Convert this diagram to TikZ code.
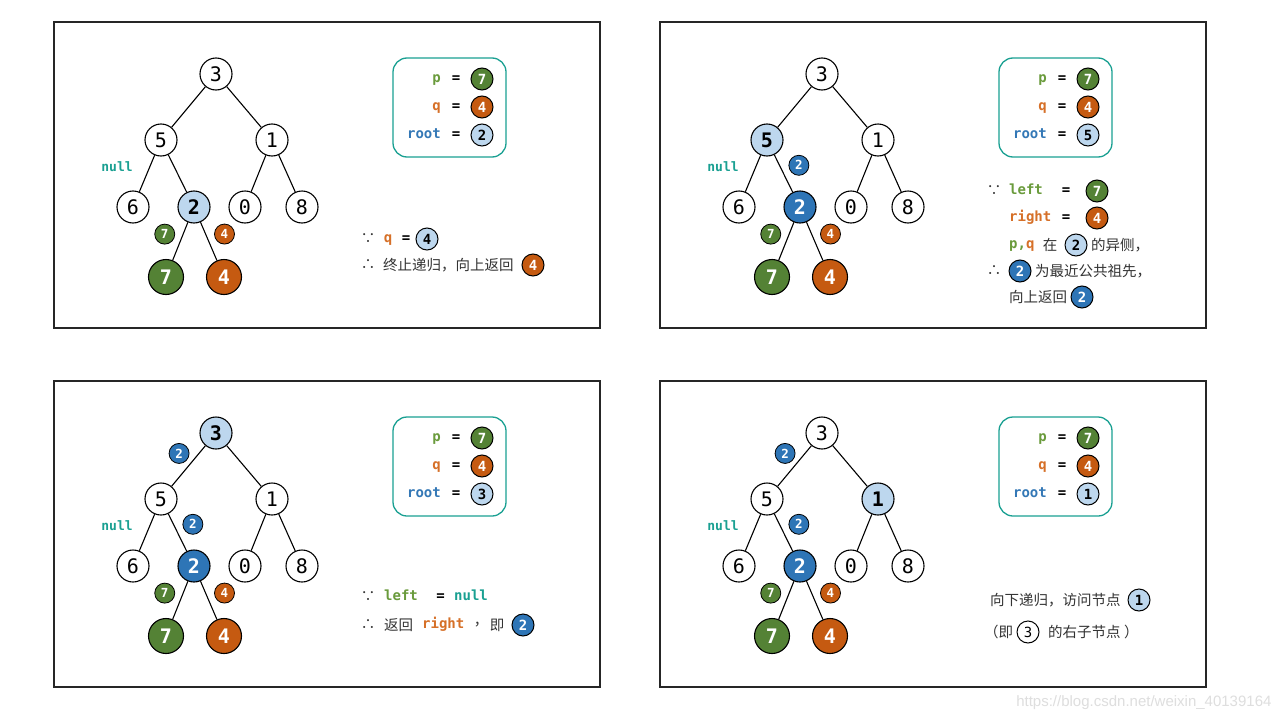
\documentclass[tikz,border=0pt]{standalone}
\usepackage{fontspec}
\setmainfont{Noto Sans CJK SC}
\setmonofont{DejaVu Sans Mono}
\newfontfamily\urlfont{Liberation Sans}
\usetikzlibrary{positioning}
\definecolor{LcaGreen}{RGB}{84,130,53}
\definecolor{LcaOrange}{RGB}{197,90,17}
\definecolor{LcaBlue}{RGB}{46,117,182}
\definecolor{LcaLight}{RGB}{189,215,238}
\definecolor{LcaTeal}{RGB}{26,160,146}
\definecolor{PText}{RGB}{106,155,60}
\definecolor{QText}{RGB}{214,112,40}
\definecolor{RootText}{RGB}{52,120,182}

% the tree of every panel, s3/s5/s1/s2 set per panel
\newcommand{\lcatree}{%
  \node[tn,s3] (n3) at (162,52) {3};
  \node[tn,s5,below left=66pt and 55pt of n3] (n5) {5};
  \node[tn,s1,below right=66pt and 56pt of n3] (n1) {1};
  \node[tn,below left=67pt and 28pt of n5] (n6) {6};
  \node[tn,s2,below right=67pt and 33pt of n5] (n2) {2};
  \node[tn,below left=67pt and 27pt of n1] (n0) {0};
  \node[tn,below right=67pt and 30pt of n1] (n8) {8};
  \node[tn,leafp,below left=70pt and 28pt of n2] (n7) {7};
  \node[tn,leafq,below right=70pt and 30pt of n2] (n4) {4};
  \draw[edge] (n3) -- (n5);
  \draw[edge] (n3) -- (n1);
  \draw[edge] (n5) -- node[nulltxt,pos=.32,left=16.5pt] (null) {null} (n6);
  \draw[edge] (n5) -- (n2);
  \draw[edge] (n1) -- (n0);
  \draw[edge] (n1) -- (n8);
  \draw[edge] (n2) -- node[badge,fill=LcaGreen,pos=.31,left=8pt] (b7) {7} (n7);
  \draw[edge] (n2) -- node[badge,fill=LcaOrange,pos=.31,right=8.5pt] (b4) {4} (n4);
}
% p, q, root box
\newcommand{\varbox}[1]{%
  \node[vbox] (vars) at (395.5,85.5) {};
  \node[code,anchor=east,text=PText] (pname) at (387,57) {p};
  \node[code] (peq) at (402,57) {=};
  \node[ic,fill=LcaGreen,text=white] (pval) at (428,57) {7};
  \node[code,anchor=east,text=QText] (qname) at (387,85) {q};
  \node[code] (qeq) at (402,85) {=};
  \node[ic,fill=LcaOrange,text=white] (qval) at (428,85) {4};
  \node[code,anchor=east,text=RootText] (rname) at (387,113) {root};
  \node[code] (req) at (402,113) {=};
  \node[ic,fill=LcaLight] (rval) at (428,113) {#1};
}

\begin{document}
\begin{tikzpicture}[x=1pt, y=-1pt,
  frame/.style={draw=black!85, line width=1.6pt},
  edge/.style={line width=1.1pt},
  tn/.style={circle, draw, line width=1.1pt, minimum size=32pt, inner sep=0pt, on grid, fill=white, font=\ttfamily\fontsize{20}{20}\selectfont},
  tcur/.style={fill=LcaLight, text=black, font=\ttfamily\bfseries\fontsize{20}{20}\selectfont},
  tret/.style={fill=LcaBlue, text=white, font=\ttfamily\bfseries\fontsize{20}{20}\selectfont},
  leafp/.style={minimum size=35pt, fill=LcaGreen, text=white, font=\ttfamily\bfseries\fontsize{20}{20}\selectfont},
  leafq/.style={leafp, fill=LcaOrange},
  s3/.style={}, s5/.style={}, s1/.style={}, s2/.style={tret},
  badge/.style={circle, draw, line width=0.8pt, minimum size=20pt, inner sep=0pt, text=white, font=\ttfamily\bfseries\fontsize{12.5}{12.5}\selectfont},
  ic/.style={circle, draw, line width=1pt, minimum size=22pt, inner sep=0pt, font=\ttfamily\bfseries\fontsize{14}{14}\selectfont},
  nulltxt/.style={inner sep=0pt, text=LcaTeal, font=\ttfamily\bfseries\fontsize{13}{13}\selectfont},
  vbox/.style={draw=LcaTeal, line width=1.3pt, rounded corners=14pt, minimum width=113pt, minimum height=99pt},
  code/.style={inner sep=0pt, text height=10pt, text depth=3pt, font=\ttfamily\bfseries\fontsize{14}{14}\selectfont},
  cn/.style={inner sep=0pt, anchor=west, text=black!80, font=\fontsize{14.5}{14.5}\selectfont},
  sym/.style={cn, anchor=center}]
\fill[white] (0,0) rectangle (1280,720);
\useasboundingbox (0,0) rectangle (1280,720);

% step 1: root = 2
\begin{scope}[shift={(54,22)}, name prefix=p1-, s2/.style={tcur}]
  \draw[frame] (0,0) rectangle (546,306);
  \lcatree
  \varbox{2}
  \node[sym] (since) at (314,217) {∵};
  \node[code,text=QText] (qtxt) at (334,217) {q};
  \node[code] (eq) at (352,217) {=};
  \node[ic,fill=LcaLight] (qv) at (373,217) {4};
  \node[sym] (hence) at (314,243) {∴};
  \node[cn] (msg) at (329,243) {终止递归，向上返回};
  \node[ic,fill=LcaOrange,text=white] (ret) at (479,243) {4};
\end{scope}

% step 2: root = 5
\begin{scope}[shift={(660,22)}, name prefix=p2-, s5/.style={tcur}]
  \draw[frame] (0,0) rectangle (546,306);
  \lcatree
  \path (n5) -- node[badge,fill=LcaBlue,pos=.28,right=9pt] (up2) {2} (n2);
  \varbox{5}
  \node[sym] (since) at (334,169) {∵};
  \node[code,anchor=west,text=PText] (ltxt) at (349,169) {left};
  \node[code] (leq) at (406,169) {=};
  \node[ic,fill=LcaGreen,text=white] (lv) at (437,169) {7};
  \node[code,anchor=west,text=QText] (rtxt) at (349,196) {right};
  \node[code] (rteq) at (406,196) {=};
  \node[ic,fill=LcaOrange,text=white] (rv) at (437,196) {4};
  \node[code,anchor=west] (pq) at (349,223) {\textcolor{PText}{p,}\textcolor{QText}{q}};
  \node[sym] (zai) at (390,223) {在};
  \node[ic,fill=LcaLight] (at2) at (416,223) {2};
  \node[cn] (side) at (431,223) {的异侧，};
  \node[sym] (hence) at (334,249) {∴};
  \node[ic,fill=LcaBlue,text=white] (lca) at (360,249) {2};
  \node[cn] (anc) at (375,249) {为最近公共祖先，};
  \node[cn] (back) at (349,275) {向上返回};
  \node[ic,fill=LcaBlue,text=white] (ret) at (422,275) {2};
\end{scope}

% step 3: root = 3
\begin{scope}[shift={(54,381)}, name prefix=p3-, s3/.style={tcur}]
  \draw[frame] (0,0) rectangle (546,306);
  \lcatree
  \path (n3) -- node[badge,fill=LcaBlue,pos=.19,left=9.5pt] (up1) {2} (n5);
  \path (n5) -- node[badge,fill=LcaBlue,pos=.28,right=9pt] (up2) {2} (n2);
  \varbox{3}
  \node[sym] (since) at (314,216) {∵};
  \node[code,anchor=west,text=PText] (ltxt) at (330,216) {left};
  \node[code] (leq) at (386.5,216) {=};
  \node[code,anchor=west,text=LcaTeal] (lnull) at (400,216) {null};
  \node[sym] (hence) at (314,244) {∴};
  \node[cn] (back) at (330,244) {返回};
  \node[code,anchor=west,text=QText] (rtxt) at (368,244) {right};
  \node[sym] (comma) at (427,244) {，};
  \node[sym] (ji) at (443,244) {即};
  \node[ic,fill=LcaBlue,text=white] (ret) at (469,244) {2};
\end{scope}

% step 4: root = 1
\begin{scope}[shift={(660,381)}, name prefix=p4-, s1/.style={tcur}]
  \draw[frame] (0,0) rectangle (546,306);
  \lcatree
  \path (n3) -- node[badge,fill=LcaBlue,pos=.19,left=9.5pt] (up1) {2} (n5);
  \path (n5) -- node[badge,fill=LcaBlue,pos=.28,right=9pt] (up2) {2} (n2);
  \varbox{1}
  \node[cn] (down) at (330,219) {向下递归，访问节点};
  \node[ic,fill=LcaLight] (visit) at (479,219) {1};
  \node[cn] (open) at (324,251) {（即};
  \node[ic,fill=white,font=\ttfamily\fontsize{14}{14}\selectfont] (par) at (368,251) {3};
  \node[cn] (rchild) at (388,251) {的右子节点};
  \node[cn] (close) at (464,251) {）};
\end{scope}

\node[anchor=east, text=black!13, font=\urlfont\fontsize{15}{15}\selectfont] (mark) at (1275,703) {https://blog.csdn.net/weixin\_40139164};
\end{tikzpicture}
\end{document}
